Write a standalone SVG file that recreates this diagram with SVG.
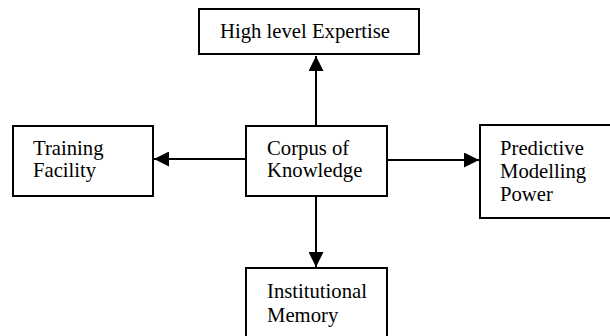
<svg xmlns="http://www.w3.org/2000/svg" width="610" height="336" viewBox="0 0 610 336">
<style>
.box{fill:#fff;stroke:#000;stroke-width:2}
.t{font-family:'Liberation Serif','Times New Roman',Times,'DejaVu Serif',serif;font-size:20.7px;fill:#000}
.ln{stroke:#000;stroke-width:2;fill:none}
</style>
<defs>
<marker id="ah" viewBox="0 0 10 10" refX="10" refY="5" markerWidth="15" markerHeight="15" markerUnits="userSpaceOnUse" orient="auto">
<path d="M0,0 L10,5 L0,10 Z" fill="#000"/>
</marker>
</defs>
<rect width="610" height="336" fill="#fff"/>
<g id="connectors">
<line class="ln" x1="316" y1="126" x2="316" y2="56" marker-end="url(#ah)"/>
<line class="ln" x1="246" y1="159" x2="154" y2="159" marker-end="url(#ah)"/>
<line class="ln" x1="387" y1="160" x2="479" y2="160" marker-end="url(#ah)"/>
<line class="ln" x1="316" y1="196" x2="316" y2="267" marker-end="url(#ah)"/>
</g>
<g id="high-level-expertise">
<rect class="box" x="199" y="9" width="220" height="45"/>
<text class="t" x="220" y="38">High level Expertise</text>
</g>
<g id="training-facility">
<rect class="box" x="13" y="126" width="140" height="70"/>
<text class="t" x="33" y="155">Training</text>
<text class="t" x="33" y="177">Facility</text>
</g>
<g id="corpus-of-knowledge">
<rect class="box" x="246" y="126" width="141" height="70"/>
<text class="t" x="267" y="155">Corpus of</text>
<text class="t" x="267" y="177">Knowledge</text>
</g>
<g id="predictive-modelling-power">
<rect class="box" x="480" y="125" width="140" height="93"/>
<text class="t" x="500" y="155">Predictive</text>
<text class="t" x="500" y="178">Modelling</text>
<text class="t" x="500" y="201">Power</text>
</g>
<g id="institutional-memory">
<rect class="box" x="246" y="268" width="141" height="80"/>
<text class="t" x="267" y="298">Institutional</text>
<text class="t" x="267" y="322">Memory</text>
</g>
</svg>
